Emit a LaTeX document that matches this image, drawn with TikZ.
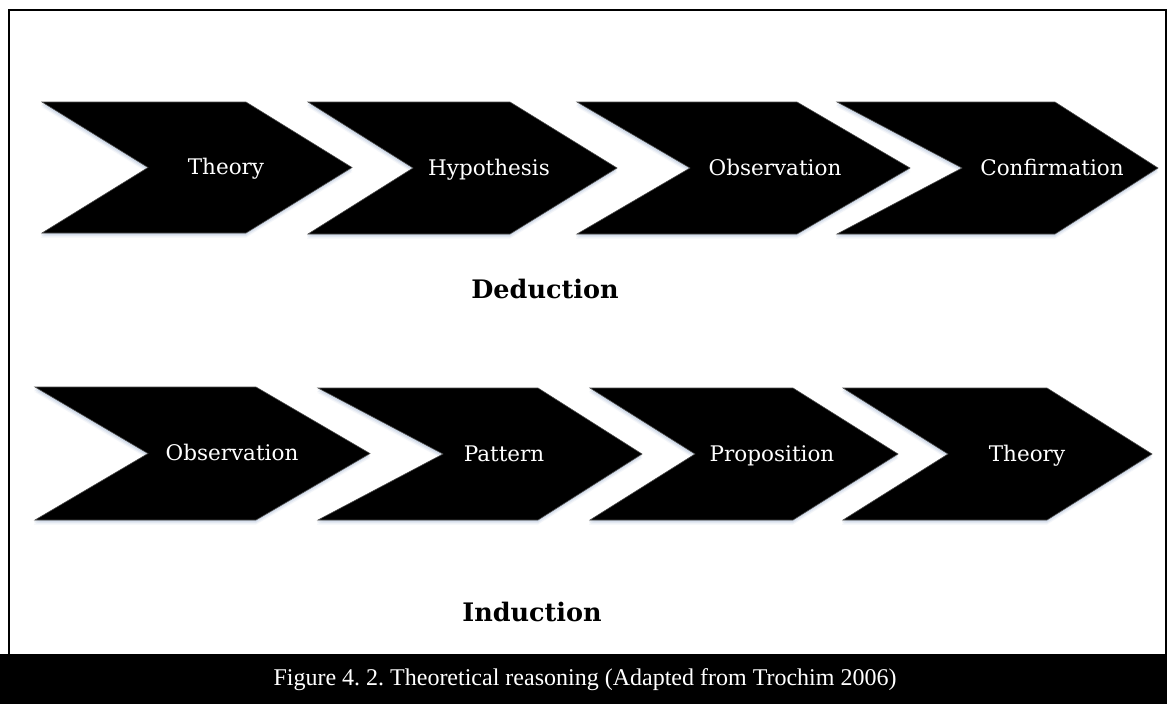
\documentclass[tikz,border=0pt]{standalone}
\usepackage{fontspec}
\setmainfont{DejaVu Serif}
\newfontfamily\capfont{Liberation Serif}
\frenchspacing
\begin{document}
\begin{tikzpicture}[x=1pt,y=-1pt,
  chevshape/.style={fill=black, draw=black!70, line width=0.6pt, line join=miter},
  chevglow/.style={fill={rgb,255:red,190;green,204;blue,224}},
  steplabel/.style={text=white, font=\fontsize{21.5}{24}\selectfont, inner sep=0pt, anchor=base},
  rowtitle/.style={font=\bfseries\fontsize{25.5}{30}\selectfont, inner sep=0pt, anchor=base},
  captiontext/.style={text=white, font=\capfont\fontsize{24}{28}\selectfont, inner sep=0pt, anchor=base},
]
\useasboundingbox (0,0) rectangle (1167,704);
\fill[white] (0,0) rectangle (1167,704);

% outer frame and caption bar
\draw[line width=2pt] (9,654) -- (9,10) -- (1165.5,10) -- (1165.5,654);
\fill[black] (0,654) rectangle (1167,704);
\node[captiontext] (caption) at (585,685) {Figure 4. 2. Theoretical reasoning (Adapted from Trochim 2006)};

% chevron: name, left, notch apex, top-right corner, tip, top, bottom, label x, label
\newcommand\chevron[9]{%
  \pgfmathsetmacro\midy{(#6+#7)/2}%
  \foreach \off/\op in {4.5/0.18, 3/0.3, 1.5/0.45}{%
    \fill[chevglow, opacity=\op]
      ({#2-1},{#6+\off}) -- ({#4},{#6+\off}) -- ({#5},{\midy+\off}) --
      ({#4},{#7+\off}) -- ({#2-1},{#7+\off}) -- ({#3-1},{\midy+\off}) -- cycle;
  }%
  \draw[chevshape] (#2,#6) -- (#4,#6) -- (#5,\midy) -- (#4,#7) -- (#2,#7) -- (#3,\midy) -- cycle;
  \node[steplabel] (#1) at (#8,{\midy+7}) {#9};%
}

% deduction row
\chevron{dTheory}{42}{148}{246}{352}{102}{233}{226}{Theory}
\chevron{dHypothesis}{308}{413}{510}{617}{102}{234}{489}{Hypothesis}
\chevron{dObservation}{577}{690}{797}{910}{102}{234}{775}{Observation}
\chevron{dConfirmation}{837}{962}{1055}{1158}{102}{234}{1052}{Confirmation}
\node[rowtitle] (deduction) at (545,298) {Deduction};

% induction row
\chevron{iObservation}{35}{148}{256}{370}{387}{520}{232}{Observation}
\chevron{iPattern}{318}{443}{538}{642}{388}{520}{504}{Pattern}
\chevron{iProposition}{590}{695}{793}{898}{388}{520}{772}{Proposition}
\chevron{iTheory}{843}{948}{1047}{1152}{388}{520}{1027}{Theory}
\node[rowtitle] (induction) at (532,621) {Induction};
\end{tikzpicture}
\end{document}
